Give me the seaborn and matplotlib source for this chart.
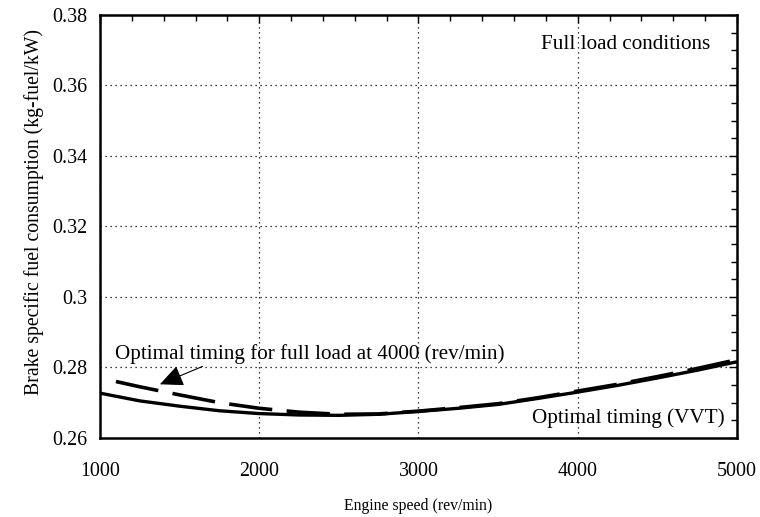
import matplotlib
matplotlib.use("Agg")
import matplotlib.pyplot as plt
from matplotlib.ticker import MultipleLocator, FixedLocator
import seaborn as sns
import pandas as pd

# Engine speed (rev/min)
speed_vvt = [1000, 1250, 1500, 1750, 2000, 2250, 2500, 2750, 3000,
             3250, 3500, 3750, 4000, 4250, 4500, 4750, 5000]
# BSFC with optimal valve timing at every speed (kg-fuel/kW)
bsfc_vvt = [0.2727, 0.2705, 0.2690, 0.2677, 0.2669, 0.2665, 0.2664, 0.2667,
            0.2675, 0.2684, 0.2695, 0.2712, 0.2730, 0.2749, 0.2770, 0.2792, 0.2816]

speed_fixed = [1100, 1250, 1500, 1750, 2000, 2250, 2500, 2750, 3000,
               3250, 3500, 3750, 4000, 4250, 4500, 4750, 5000]
# BSFC with timing fixed at the full-load optimum for 4000 rev/min
bsfc_fixed = [0.2760, 0.2745, 0.2722, 0.2700, 0.2684, 0.2673, 0.2667, 0.2668,
              0.2676, 0.2686, 0.2697, 0.2714, 0.2733, 0.2752, 0.2774, 0.2797, 0.2822]

x_ticks = [1000, 2000, 3000, 4000, 5000]
y_ticks = [0.26, 0.28, 0.30, 0.32, 0.34, 0.36, 0.38]
y_tick_labels = ["0.26", "0.28", "0.3", "0.32", "0.34", "0.36", "0.38"]

df_vvt = pd.DataFrame({"speed": speed_vvt, "bsfc": bsfc_vvt})
df_fixed = pd.DataFrame({"speed": speed_fixed, "bsfc": bsfc_fixed})

sns.set_theme(style="white")
plt.rcParams["font.family"] = ["Liberation Serif", "DejaVu Serif"]

fig, ax = plt.subplots(figsize=(7.6, 5.17), dpi=100)
fig.subplots_adjust(left=0.1316, right=0.9697, top=0.971, bottom=0.153)

sns.lineplot(data=df_vvt, x="speed", y="bsfc", ax=ax, color="black",
             lw=2.4, solid_capstyle="butt")
sns.lineplot(data=df_fixed, x="speed", y="bsfc", ax=ax, color="black",
             lw=2.6, dashes=False, linestyle=(0, (12, 4)))

ax.set_xlim(1000, 5000)
ax.set_ylim(0.26, 0.38)
ax.xaxis.set_major_locator(FixedLocator(x_ticks))
ax.yaxis.set_major_locator(FixedLocator(y_ticks))
ax.set_yticklabels(y_tick_labels)
ax.xaxis.set_minor_locator(MultipleLocator(200))
ax.yaxis.set_minor_locator(MultipleLocator(0.005))

ax.tick_params(which="both", direction="in", top=True, right=True,
               color="black", width=1.0)
ax.tick_params(which="major", length=6, labelsize=14.4, colors="black")
ax.tick_params(which="minor", length=4)
ax.tick_params(axis="x", which="major", pad=17)
ax.tick_params(axis="y", which="major", pad=9)

ax.grid(True, which="major", color="black", linestyle=(0, (1, 3)), lw=0.9)
for sp in ax.spines.values():
    sp.set_color("black")
    sp.set_linewidth(1.8)

ax.set_xlabel("Engine speed (rev/min)", fontsize=11.3, color="black")
ax.set_ylabel("Brake specific fuel consumption (kg-fuel/kW)", fontsize=14.2,
              color="black")
ax.xaxis.set_label_coords(0.5, -0.141)
ax.yaxis.set_label_coords(-0.088, 0.534)

ax.text(4830, 0.3715, "Full load conditions", fontsize=15.2, ha="right",
        va="center", color="black")
ax.text(4925, 0.2655, "Optimal timing (VVT)", fontsize=15.2, ha="right",
        va="center", color="black")
ax.text(1094, 0.2838, "Optimal timing for full load at 4000 (rev/min)",
        fontsize=15.2, ha="left", va="center", color="black")
ax.annotate("", xy=(1360, 0.2749), xytext=(1660, 0.2806),
            arrowprops=dict(arrowstyle="-|>,head_length=1.2,head_width=0.55",
                            color="black", lw=0.8))

fig.savefig("out.png", dpi=100)
